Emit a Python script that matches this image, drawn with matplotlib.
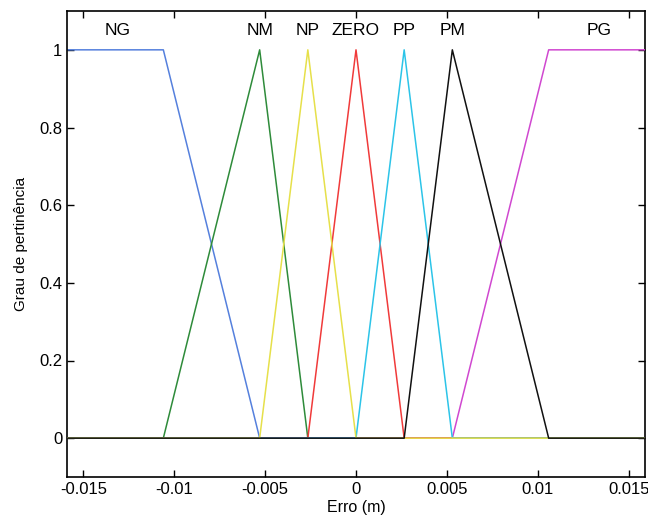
import numpy as np
import matplotlib
matplotlib.use("Agg")
import matplotlib.pyplot as plt

plt.rcParams['font.family'] = ['Liberation Sans Narrow', 'Liberation Sans', 'DejaVu Sans']

# universo de discurso do erro
x_min, x_max = -0.0159, 0.0159

# conjuntos fuzzy: nome, pontos de quebra (x) e graus (y)
names = ['NG', 'NM', 'NP', 'ZERO', 'PP', 'PM', 'PG']
mf_x = [
    [-0.0159, -0.0106, -0.0053, 0.0159],
    [-0.0159, -0.0106, -0.0053, -0.00265, 0.0159],
    [-0.0159, -0.0053, -0.00265, 0.0, 0.0159],
    [-0.0159, -0.00265, 0.0, 0.00265, 0.0159],
    [-0.0159, 0.0, 0.00265, 0.0053, 0.0159],
    [-0.0159, 0.00265, 0.0053, 0.0106, 0.0159],
    [-0.0159, 0.0053, 0.0106, 0.0159],
]
mf_y = [
    [1, 1, 0, 0],
    [0, 0, 1, 0, 0],
    [0, 0, 1, 0, 0],
    [0, 0, 1, 0, 0],
    [0, 0, 1, 0, 0],
    [0, 0, 1, 0, 0],
    [0, 0, 1, 1],
]
label_x = [-0.0131, -0.0053, -0.00265, 0.0, 0.00265, 0.0053, 0.0134]
colors = ['#5580dd', '#2e8b3a', '#e6e04a', '#f03a3a', '#2cc4e8', '#111111', '#d048d0']
zorders = [2, 3, 6, 4, 5, 7, 3.5]

fig = plt.figure(figsize=(6.48, 5.28), dpi=100)
ax = fig.add_axes([67/648, 1-477/528, 578/648, 466/528])

for i in range(len(names)):
    ax.plot(mf_x[i], mf_y[i], color=colors[i], lw=1.1, zorder=zorders[i])
    ax.text(label_x[i], 1.05, names[i], ha='center', va='center', fontsize=12.5)

ax.set_xlim(x_min, x_max)
ax.set_ylim(-0.1, 1.1)
ax.set_xticks([-0.015, -0.01, -0.005, 0, 0.005, 0.01, 0.015])
ax.set_xticklabels(['-0.015', '-0.01', '-0.005', '0', '0.005', '0.01', '0.015'])
ax.set_yticks([0, 0.2, 0.4, 0.6, 0.8, 1])
ax.set_yticklabels(['0', '0.2', '0.4', '0.6', '0.8', '1'])
ax.tick_params(direction='in', top=True, right=True, labelsize=12, length=5, width=1)
for s in ax.spines.values():
    s.set_linewidth(1.2)

ax.set_xlabel('Erro (m)', fontsize=11.5, labelpad=2)
ax.set_ylabel('Grau de pertinência', fontsize=11, labelpad=8)

fig.savefig('out.png', dpi=100)
